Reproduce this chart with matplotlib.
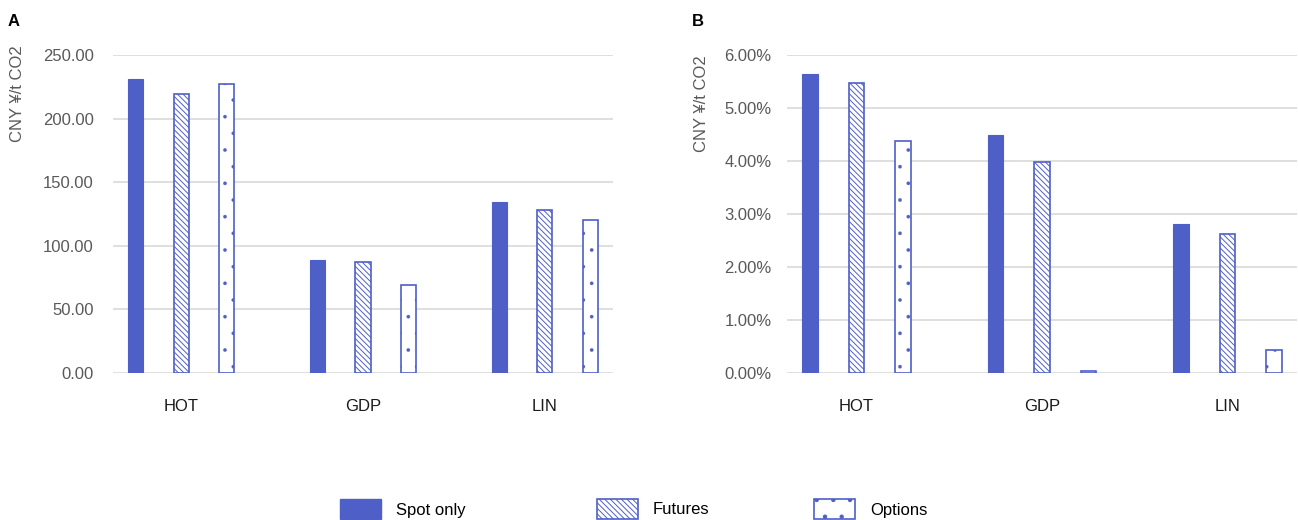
import numpy as np
import matplotlib.pyplot as plt
from matplotlib.patches import Patch
from matplotlib.ticker import FuncFormatter

plt.rcParams['font.family'] = ['Liberation Sans', 'DejaVu Sans']
plt.rcParams['hatch.linewidth'] = 0.7

blue = '#4f5fc8'
grid_c = '#d9d9d9'
tick_c = '#595959'
font_tick = 12

categories = ['HOT', 'GDP', 'LIN']
series = ['Spot only', 'Futures', 'Options']
hatches = [None, '\\\\\\\\\\\\', '.']
hatch_lw = [0.7, 0.7, 0.2]

# panel A: CNY/t CO2
vals_a = {'Spot only': [231.0, 88.6, 134.4],
          'Futures': [219.0, 87.3, 128.0],
          'Options': [227.4, 69.2, 120.0]}
# panel B: percent
vals_b = {'Spot only': [5.65, 4.49, 2.82],
          'Futures': [5.48, 3.99, 2.62],
          'Options': [4.38, 0.04, 0.43]}

fig = plt.figure(figsize=(12.98, 5.2), dpi=100)
ax_a = fig.add_axes([113/1298, 147/520, 500/1298, 318/520])
ax_b = fig.add_axes([787/1298, 147/520, 510/1298, 318/520])

x = np.arange(len(categories))
offsets = [-0.25, 0.0, 0.25]
width = 0.084

def draw(ax, vals, ymax, step, fmt, pad):
    for s, off, h, hl in zip(series, offsets, hatches, hatch_lw):
        if h is None:
            ax.bar(x + off, vals[s], width, color=blue, edgecolor=blue, lw=0.8, zorder=3)
        else:
            with plt.rc_context({'hatch.linewidth': hl}):
                ax.bar(x + off, vals[s], width, facecolor='white', edgecolor=blue,
                       hatch=h, lw=1.2, zorder=3)
    ax.set_xlim(-0.375, 2.375)
    ax.set_ylim(0, ymax)
    ax.set_yticks(np.arange(0, ymax + step/2, step))
    ax.yaxis.set_major_formatter(FuncFormatter(fmt))
    ax.grid(axis='y', color=grid_c, lw=1.2, zorder=0)
    for sp in ax.spines.values():
        sp.set_visible(False)
    ax.set_xticks(x)
    ax.set_xticklabels(categories)
    ax.tick_params(axis='y', length=0, labelsize=font_tick, labelcolor=tick_c, pad=pad)
    ax.tick_params(axis='x', length=0, labelsize=font_tick, labelcolor='#1a1a1a', pad=19)

draw(ax_a, vals_a, 250, 50, lambda v, p: '{:.2f}'.format(v), 14)
draw(ax_b, vals_b, 6, 1, lambda v, p: '{:.2f}%'.format(v), 11)

fig.text(18/1298, 1 - 45/520, 'CNY ¥/t CO2', rotation=90, va='top', ha='center',
         fontsize=font_tick, color=tick_c)
fig.text(701/1298, 1 - 55/520, 'CNY ¥/t CO2', rotation=90, va='top', ha='center',
         fontsize=font_tick, color=tick_c)
fig.text(8/1298, 1 - 22/520, 'A', fontsize=12, fontweight='bold', va='center')
fig.text(692/1298, 1 - 22/520, 'B', fontsize=12, fontweight='bold', va='center')

# legend, one entry each
leg_x = [340, 597, 814]
for s, h, hl, lx in zip(series, hatches, hatch_lw, leg_x):
    with plt.rc_context({'hatch.linewidth': hl}):
        if h is None:
            hd = Patch(facecolor=blue, edgecolor=blue)
        else:
            hd = Patch(facecolor='white', edgecolor=blue, hatch=h, lw=1.2)
    fig.legend([hd], [s], loc='center left', bbox_to_anchor=(lx/1298, 1 - 509/520),
               frameon=False, fontsize=font_tick, handlelength=2.46, handleheight=1.5,
               handletextpad=0.9, borderpad=0, borderaxespad=0)

plt.savefig('out.png', dpi=100)
